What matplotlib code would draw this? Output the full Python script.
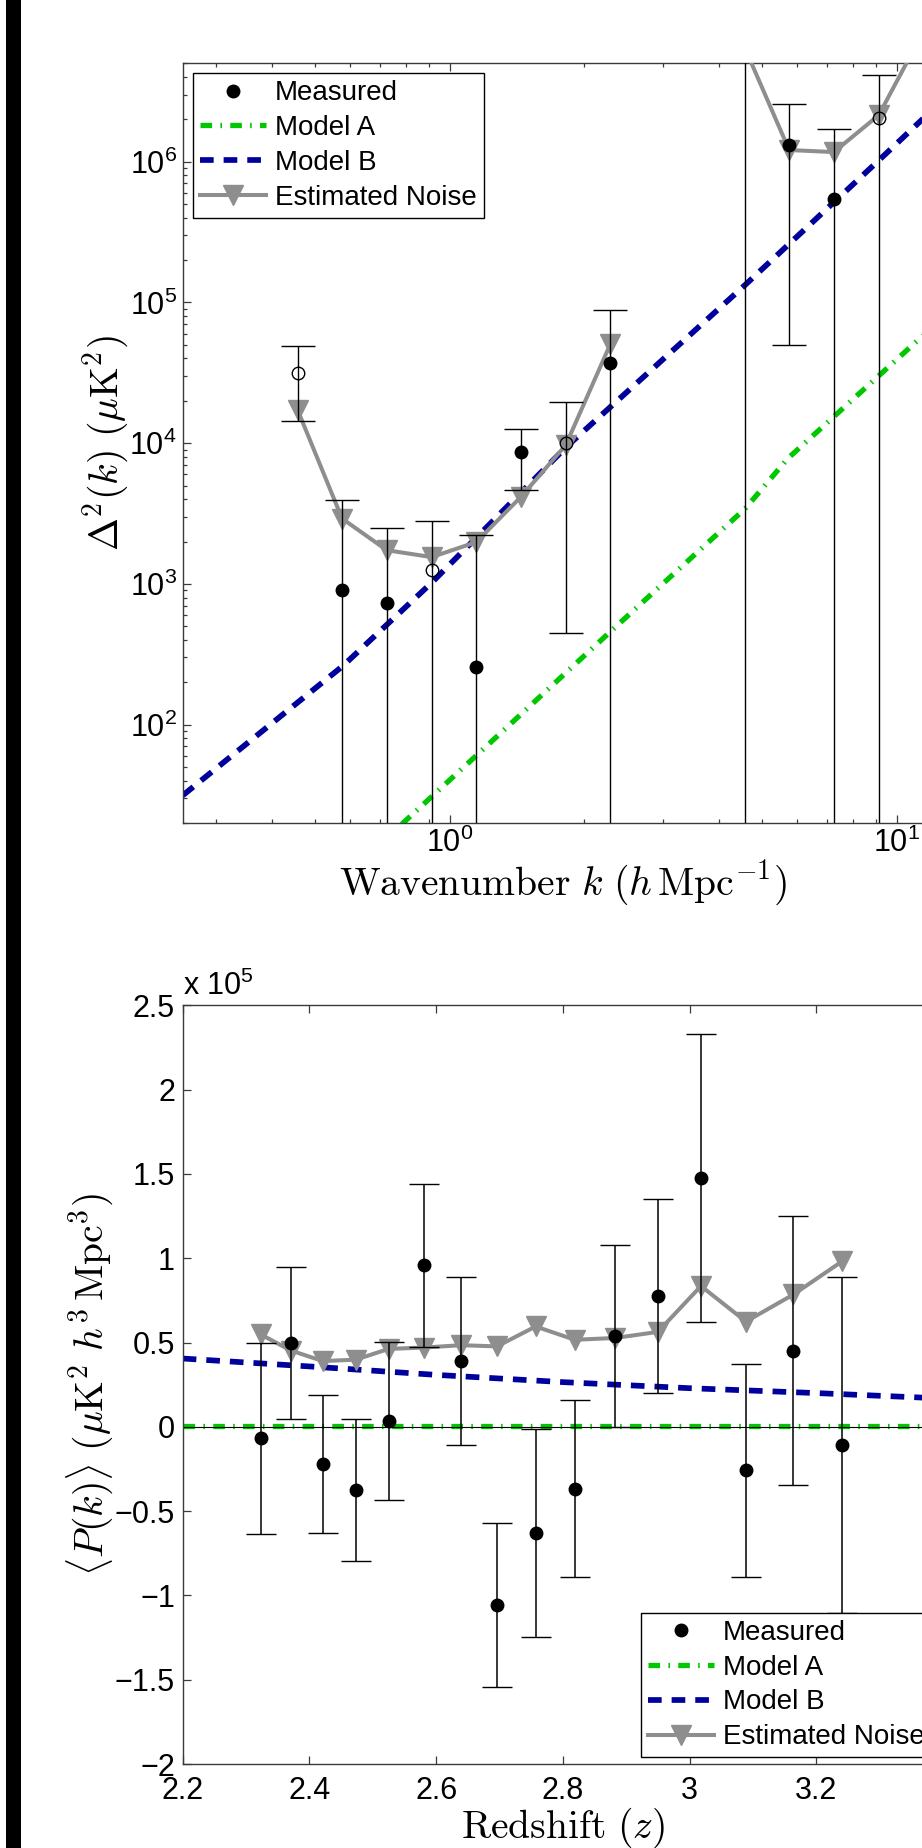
import numpy as np
import matplotlib
matplotlib.use('Agg')
import matplotlib.pyplot as plt
from matplotlib.lines import Line2D
from matplotlib.patches import Rectangle
from matplotlib.ticker import LogLocator, FixedLocator, FuncFormatter, NullFormatter

# ---------------- data: top panel (power spectrum vs wavenumber) ----------------
k_bins = [0.457, 0.575, 0.724, 0.912, 1.148, 1.445, 1.82, 2.29, 2.88, 3.63,
          4.57, 5.75, 7.24, 9.12, 11.5]
# signed measurement (negative values drawn as open circles at |value|)
delta_meas = [-3.15e4, 910, 731, -1245, 258, 8630, -1.0e4, 3.71e4, np.nan, np.nan,
              1.0e7, 1.31e6, 5.47e5, -2.03e6, np.nan]
delta_err = [1.72e4, 3030, 1764, 1555, 1955, 4000, 9550, 5.1e4, np.nan, np.nan,
             2.0e7, 1.26e6, 1.17e6, 2.09e6, np.nan]
delta_noise = [1.73e4, 2910, 1735, 1550, 1983, 4160, 9700, 5.07e4, np.nan, np.nan,
               6.5e6, 1.21e6, 1.17e6, 2.14e6, 8.5e6]

k_model_a = [0.70, 0.787, 1.153, 2.30, 4.586, 5.71, 11.26, 12.7]
delta_model_a = [14.0, 20.0, 61.1, 464, 3430, 7780, 5.53e4, 7.9e4]
k_model_b = [0.253, 0.577, 0.913, 1.824, 4.571, 9.12, 12.7]
delta_model_b = [31.4, 261, 1023, 9400, 1.32e5, 1.02e6, 2.75e6]

# ---------------- data: bottom panel (mean P(k) vs redshift, units of 1e5) ----------------
z_bins = [2.323, 2.371, 2.421, 2.473, 2.525, 2.581, 2.639, 2.696, 2.757, 2.819,
          2.883, 2.950, 3.018, 3.089, 3.164, 3.241]
pk_meas = [-0.068, 0.495, -0.219, -0.376, 0.036, 0.957, 0.391, -1.057, -0.631, -0.366,
           0.538, 0.774, 1.477, -0.258, 0.452, -0.108]
pk_err = [0.565, 0.45, 0.41, 0.42, 0.468, 0.484, 0.50, 0.488, 0.617, 0.525,
          0.538, 0.576, 0.855, 0.631, 0.796, 0.997]
pk_noise = [0.548, 0.452, 0.39, 0.398, 0.462, 0.47, 0.484, 0.477, 0.595, 0.516,
            0.527, 0.563, 0.835, 0.624, 0.785, 0.982]
z_model = [2.2, 2.4, 2.6, 2.8, 3.0, 3.2, 3.4]
pk_model_a = [0.004, 0.004, 0.004, 0.004, 0.004, 0.004, 0.004]
pk_model_b = [0.405, 0.358, 0.308, 0.265, 0.229, 0.20, 0.168]

legend_labels = ['Measured', 'Model A', 'Model B', 'Estimated Noise']

# ---------------- style ----------------
plt.rcParams['font.family'] = ['Liberation Sans', 'DejaVu Sans']
plt.rcParams['font.size'] = 22
plt.rcParams['mathtext.fontset'] = 'custom'
plt.rcParams['mathtext.rm'] = 'Liberation Sans'
plt.rcParams['mathtext.it'] = 'Liberation Sans:italic'
plt.rcParams['mathtext.bf'] = 'Liberation Sans:bold'
plt.rcParams['axes.linewidth'] = 1.0

GREEN = '#00c800'
BLUE = '#00009c'
GRAY = '#8e8e8e'
SPINE = '#3a3a3a'
FW, FH = 922, 1848

fig = plt.figure(figsize=(FW / 100, FH / 100), dpi=100)
fig.add_artist(Rectangle((6 / FW, 0), 15 / FW, 1, transform=fig.transFigure,
                         facecolor='black', edgecolor='none'))

AX_L, AX_R = 182.7, 943.0
ax1 = fig.add_axes([AX_L / FW, 1 - 823 / FH, (AX_R - AX_L) / FW, (823 - 63.3) / FH])
ax2 = fig.add_axes([AX_L / FW, 1 - 1764 / FH, (AX_R - AX_L) / FW, (1764 - 1005.3) / FH])

model_a_kw = dict(color=GREEN, lw=3.8, dashes=(2.2, 1.57, 0.3, 1.57), dash_capstyle='butt')
model_b_kw = dict(color=BLUE, lw=4.1, dashes=(2.4, 1.75), dash_capstyle='butt')
noise_kw = dict(color=GRAY, lw=2.9, marker='v', markersize=15, markerfacecolor=GRAY,
                markeredgecolor=GRAY)

# ---------------- top panel ----------------
ax1.set_xscale('log')
ax1.set_yscale('log', nonpositive='clip')
ax1.plot(k_model_a, delta_model_a, zorder=2, **model_a_kw)
ax1.plot(k_model_b, delta_model_b, zorder=2, **model_b_kw)
ax1.plot(k_bins, delta_noise, zorder=3, **noise_kw)

km = np.array(k_bins)
dm = np.array(delta_meas)
de = np.array(delta_err)
ax1.errorbar(km, np.abs(dm), yerr=de, fmt='none', ecolor='black', elinewidth=1.0,
             capsize=12, capthick=1.0, zorder=4)
pos = dm > 0
neg = dm < 0
ax1.plot(km[pos], dm[pos], 'o', color='black', markersize=9, zorder=5)
ax1.plot(km[neg], -dm[neg], 'o', markerfacecolor='none', markeredgecolor='black',
         markeredgewidth=1.0, markersize=9, zorder=5)

ax1.set_xlim(0.253, 12.7)
ax1.set_ylim(20, 5.0e6)
ax1.xaxis.set_major_locator(LogLocator(base=10, numticks=20))
ax1.xaxis.set_minor_locator(LogLocator(base=10, subs=np.arange(2, 10), numticks=50))
ax1.xaxis.set_minor_formatter(NullFormatter())
ax1.yaxis.set_major_locator(LogLocator(base=10, numticks=20))
ax1.yaxis.set_minor_locator(LogLocator(base=10, subs=np.arange(2, 10), numticks=50))
ax1.yaxis.set_minor_formatter(NullFormatter())
ax1.tick_params(axis='both', which='both', direction='in', top=True, right=True,
                color=SPINE, width=0.9)
ax1.tick_params(which='major', length=5.8)
ax1.tick_params(which='minor', length=3.2)
ax1.tick_params(axis='x', which='major', pad=3.5)
ax1.tick_params(axis='y', which='major', pad=4.3)

ax1.set_xlabel(r'$\mathrm{Wavenumber}\ k\ (h\,\mathrm{Mpc}^{-1})$', fontsize=28.5,
               math_fontfamily='cm')
ax1.xaxis.label.set_va('center')
ax1.xaxis.set_label_coords(0.5, (823 - 883) / (823 - 63.3))
ax1.set_ylabel(r'$\Delta^2(k)\ (\mu\mathrm{K}^2)$', fontsize=28.5, math_fontfamily='cm')
ax1.yaxis.label.set_va('center')
ax1.yaxis.set_label_coords((106 - AX_L) / (AX_R - AX_L), 0.5)

# ---------------- bottom panel ----------------
ax2.plot(z_model, pk_model_a, zorder=2, **model_a_kw)
ax2.axhline(0, color='black', lw=0.8, zorder=2.5)
ax2.plot(z_model, pk_model_b, zorder=2, **model_b_kw)
ax2.plot(z_bins, pk_noise, zorder=3, **noise_kw)
ax2.errorbar(z_bins, pk_meas, yerr=pk_err, fmt='o', color='black', ecolor='black',
             elinewidth=1.1, capsize=11, capthick=1.0, markersize=9, zorder=4)

ax2.set_xlim(2.2, 3.4)
ax2.set_ylim(-2, 2.5)
ax2.xaxis.set_major_locator(FixedLocator([2.2, 2.4, 2.6, 2.8, 3.0, 3.2, 3.4]))
ax2.yaxis.set_major_locator(FixedLocator([-2, -1.5, -1, -0.5, 0, 0.5, 1, 1.5, 2, 2.5]))
fmt = FuncFormatter(lambda v, p: ('%g' % round(v, 3)).replace('-', '\u2212'))
ax2.xaxis.set_major_formatter(fmt)
ax2.yaxis.set_major_formatter(fmt)
ax2.tick_params(axis='both', which='both', direction='in', top=True, right=True,
                color=SPINE, width=0.9, length=5.8)
ax2.tick_params(axis='x', pad=8.5)
ax2.tick_params(axis='y', pad=5.5)
fig.text(AX_L / FW, 1 - 995 / FH, r'x 10$^5$', fontsize=22, ha='left', va='baseline')

ax2.set_xlabel(r'$\mathrm{Redshift}\ (z)$', fontsize=28.5, math_fontfamily='cm')
ax2.xaxis.label.set_va('center')
ax2.xaxis.set_label_coords(0.5, (1764 - 1828) / (1764 - 1005.3))
ax2.set_ylabel(r'$\langle P(k)\rangle\ (\mu\mathrm{K}^2\ h^3\,\mathrm{Mpc}^3)$',
               fontsize=28.5, math_fontfamily='cm')
ax2.yaxis.label.set_va('center')
ax2.yaxis.set_label_coords((90 - AX_L) / (AX_R - AX_L), 0.5)

for ax in (ax1, ax2):
    for s in ax.spines.values():
        s.set_color(SPINE)
        s.set_linewidth(1.0)

# ---------------- legends ----------------
def make_handles():
    return [
        Line2D([], [], ls='none', marker='o', color='black', markersize=9),
        Line2D([], [], **model_a_kw),
        Line2D([], [], **model_b_kw),
        Line2D([], [], **noise_kw),
    ]

leg_kw = dict(loc='upper left', bbox_transform=fig.transFigure, borderaxespad=0,
              fontsize=20, frameon=True, fancybox=False, framealpha=1,
              borderpad=0.25, labelspacing=0.32, handlelength=2.4, handletextpad=0.32,
              numpoints=1)
leg1 = ax1.legend(make_handles(), legend_labels,
                  bbox_to_anchor=(192.7 / FW, 1 - 73.3 / FH), **leg_kw)
leg2 = ax2.legend(make_handles(), legend_labels,
                  bbox_to_anchor=(640.7 / FW, 1 - 1612.7 / FH), **leg_kw)
for leg in (leg1, leg2):
    fr = leg.get_frame()
    fr.set_edgecolor('black')
    fr.set_linewidth(1.0)
    leg.set_zorder(10)

fig.savefig('out.png', dpi=100)
